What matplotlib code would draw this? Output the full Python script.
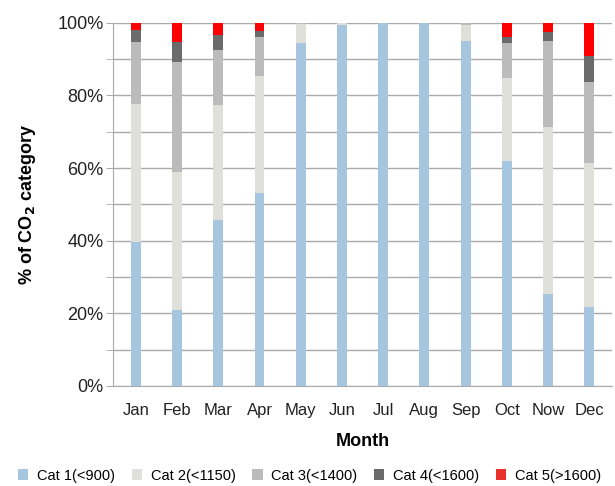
import numpy as np
import matplotlib.pyplot as plt
from matplotlib.patches import Patch
from matplotlib.ticker import MultipleLocator, PercentFormatter

plt.rcParams['font.family'] = ['Liberation Sans', 'DejaVu Sans']

# ----------------------------
# Data (percent of hours per CO2 category)
# ----------------------------
months = ["Jan", "Feb", "Mar", "Apr", "May", "Jun", "Jul", "Aug", "Sep", "Oct", "Now", "Dec"]
cat1 = [39.5, 20.9, 45.7, 53.1, 94.4, 99.4, 100.0, 100.0, 95.1, 62.0, 25.3, 21.6]
cat2 = [38.2, 37.9, 31.6, 32.3, 5.4, 0.6, 0.0, 0.0, 4.2, 22.8, 45.9, 39.7]
cat3 = [17.1, 30.4, 15.3, 10.7, 0.2, 0.0, 0.0, 0.0, 0.7, 9.6, 23.9, 22.5]
cat4 = [3.1, 5.6, 4.0, 1.7, 0.0, 0.0, 0.0, 0.0, 0.0, 1.7, 2.4, 7.1]
cat5 = [2.1, 5.2, 3.4, 2.2, 0.0, 0.0, 0.0, 0.0, 0.0, 3.9, 2.5, 9.1]

labels = ["Cat 1(<900)", "Cat 2(<1150)", "Cat 3(<1400)", "Cat 4(<1600)", "Cat 5(>1600)"]
colors = ["#a6c6df", "#e0e0da", "#bbbbbb", "#6b6b6b", "#ff0000"]
legend_colors = ["#a6c6df", "#e0e0da", "#bbbbbb", "#6b6b6b", "#e8312a"]

# ----------------------------
# Plot
# ----------------------------
fig = plt.figure(figsize=(6.15, 4.86), dpi=100)
ax = fig.add_axes([0.184, 0.206, 0.811, 0.747])

x = np.arange(len(months))
bottom = np.zeros(len(months))
for vals, c in zip([cat1, cat2, cat3, cat4, cat5], colors):
    ax.bar(x, vals, bottom=bottom, width=0.24, color=c, zorder=3)
    bottom += np.array(vals)

ax.set_ylim(0, 100)
ax.set_xlim(-0.55, 11.55)
ax.yaxis.set_major_locator(MultipleLocator(20))
ax.yaxis.set_minor_locator(MultipleLocator(10))
ax.yaxis.set_major_formatter(PercentFormatter(decimals=0))
ax.grid(axis='y', which='both', color='#aaaaaa', linewidth=1.0, zorder=0)

ax.set_xticks(x)
ax.set_xticklabels(months)
ax.tick_params(axis='x', length=0, labelsize=12, pad=12, colors='#222222')
ax.tick_params(axis='y', which='both', length=5, color='#aaaaaa', labelsize=13, pad=2,
               labelcolor='#222222')

for s in ['top', 'right']:
    ax.spines[s].set_visible(False)
ax.spines['left'].set_color('#aaaaaa')
ax.spines['bottom'].set_color('#aaaaaa')

ax.set_xlabel("Month", fontsize=13, fontweight='bold', labelpad=11)
ax.set_ylabel("% of CO$_\\mathbf{2}$ category", fontsize=13, fontweight='bold', labelpad=14)

handles = [Patch(facecolor=c, edgecolor='none') for c in legend_colors]
fig.legend(handles, labels, loc='lower left', bbox_to_anchor=(0.008, -0.02), ncol=5,
           frameon=False, fontsize=10.5, handlelength=0.7, handleheight=0.7,
           handletextpad=0.6, columnspacing=1.15)

fig.savefig("out.png", dpi=100)
